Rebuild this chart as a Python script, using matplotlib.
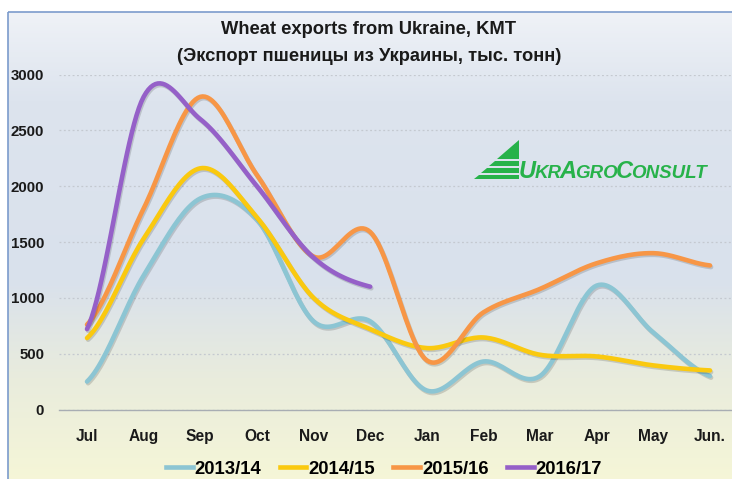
import numpy as np
import matplotlib
matplotlib.use("Agg")
import matplotlib.pyplot as plt
from matplotlib.colors import LinearSegmentedColormap
from matplotlib.patches import Rectangle, Polygon
from matplotlib.lines import Line2D
import matplotlib.patheffects as pe

# monthly wheat exports, thousand tonnes
months = ["Jul", "Aug", "Sep", "Oct", "Nov", "Dec", "Jan", "Feb", "Mar", "Apr", "May", "Jun."]
exp_2013 = [250, 1200, 1890, 1700, 790, 790, 170, 430, 300, 1110, 690, 300]
exp_2014 = [640, 1530, 2160, 1720, 1000, 720, 550, 645, 490, 475, 395, 350]
exp_2015 = [760, 1800, 2800, 2100, 1370, 1590, 440, 870, 1080, 1310, 1400, 1290]
exp_2016 = [720, 2800, 2600, 2000, 1360, 1100]
seasons = ["2013/14", "2014/15", "2015/16", "2016/17"]
colors = ["#8CC5D3", "#FAC90F", "#F79646", "#9560C8"]
yticks = [0, 500, 1000, 1500, 2000, 2500, 3000]

FONT = ["Liberation Sans", "DejaVu Sans"]
plt.rcParams['font.family'] = FONT


def smooth(vals, n=24):
    # catmull-rom like excel "smoothed line"
    y = np.asarray(vals, float)
    p = np.concatenate([[y[0]], y, [y[-1]]])
    xs, ys = [], []
    t = np.linspace(0, 1, n, endpoint=False)
    h00 = 2 * t**3 - 3 * t**2 + 1
    h10 = t**3 - 2 * t**2 + t
    h01 = -2 * t**3 + 3 * t**2
    h11 = t**3 - t**2
    for i in range(len(y) - 1):
        m1 = (p[i + 2] - p[i]) / 2
        m2 = (p[i + 3] - p[i + 1]) / 2
        xs.append(i + t)
        ys.append(h00 * p[i + 1] + h10 * m1 + h01 * p[i + 2] + h11 * m2)
    xs.append([len(y) - 1])
    ys.append([y[-1]])
    return np.concatenate(xs), np.concatenate(ys)


fig = plt.figure(figsize=(7.32, 4.79), dpi=100, facecolor="white")

# background panel in pixel coords
bg = fig.add_axes([0, 0, 1, 1], zorder=-1)
bg.axis("off")
grad_cmap = LinearSegmentedColormap.from_list(
    "bg", [(0.0, "#EFF2F7"), (0.18, "#DDE4EE"), (0.55, "#D9E1EC"),
           (0.75, "#E9ECDD"), (1.0, "#F8F8D6")])
grad = np.linspace(0, 1, 256).reshape(-1, 1)
bg.imshow(grad, cmap=grad_cmap, aspect="auto", extent=[8, 760, 500, 12], zorder=0)
bg.add_patch(Rectangle((8, 12), 760, 500, fill=False, edgecolor="#7B9BCC", lw=1.2, zorder=1))
bg.set_xlim(0, 732)
bg.set_ylim(479, 0)

bg.text(369, 29, "Wheat exports from Ukraine, KMT", ha="center", va="center",
        fontsize=13.2, fontweight="bold", color="#1A1A1A")
bg.text(369, 56, "(Экспорт пшеницы из Украины, тыс. тонн)", ha="center", va="center",
        fontsize=13.2, fontweight="bold", color="#1A1A1A")

# logo
green = "#27B24A"
bands = [(140, 159), (161, 166), (168, 172.5), (174.5, 178.5)]
for y0, y1 in bands:
    xl0 = 519 - (y0 - 140) * 44 / 38
    xl1 = 519 - (y1 - 140) * 44 / 38
    bg.add_patch(Polygon([(xl0, y0), (519, y0), (519, y1), (xl1, y1)], closed=True,
                         facecolor=green, edgecolor="none", zorder=2))
rend = fig.canvas.get_renderer()
lx = 519
for s, size in [("U", 17), ("KR", 13.5), ("A", 17), ("GRO", 13.5), ("C", 17), ("ONSULT", 13.5)]:
    t = bg.text(lx, 178, s, fontsize=size, fontweight="bold", fontstyle="italic",
                color=green, va="baseline", ha="left", zorder=3)
    lx += t.get_window_extent(renderer=rend).width - 1.8

# main chart
left, right = 58.7, 738.3
top, bottom = 74.5, 409.5
ax = fig.add_axes([left / 732, 1 - bottom / 479, (right - left) / 732, (bottom - top) / 479])
ax.set_facecolor("none")
ax.set_xlim(-0.5, len(months) - 0.5)
ax.set_ylim(0, 3000)

shadow = [pe.SimpleLineShadow(offset=(0.8, -1.2), shadow_color="k", alpha=0.15), pe.Normal()]
for vals, col, lab in zip([exp_2013, exp_2014, exp_2015, exp_2016], colors, seasons):
    sx, sy = smooth(vals)
    ax.plot(sx, sy, color=col, lw=3.3, solid_capstyle="round", label=lab,
            path_effects=shadow, zorder=3)

ax.set_xticks(range(len(months)))
ax.set_xticklabels(months, fontsize=11.2, fontweight="bold", color="#1A1A1A")
ax.set_yticks(yticks)
ax.set_yticklabels([str(v) for v in yticks], fontsize=10.8, fontweight="bold", color="#1A1A1A")
ax.tick_params(axis="x", length=0, pad=14)
ax.tick_params(axis="y", length=0, pad=10.5)
ax.yaxis.grid(True, linestyle=(0, (1.5, 2)), color="#C4C9D0", lw=0.9)
ax.set_axisbelow(True)
for side in ["top", "right", "left"]:
    ax.spines[side].set_visible(False)
ax.spines["bottom"].set_color("#A8ADB3")
ax.spines["bottom"].set_linewidth(1.0)

handles = [Line2D([], [], color=c, lw=3.3) for c in colors]
fig.legend(handles, seasons, loc="center", bbox_to_anchor=(384 / 732, 1 - 469 / 479),
           ncol=4, frameon=False, handlelength=1.45, handletextpad=0.1, columnspacing=1.0,
           prop={"size": 13.3, "weight": "bold", "family": FONT})

fig.savefig("out.png", dpi=100)
